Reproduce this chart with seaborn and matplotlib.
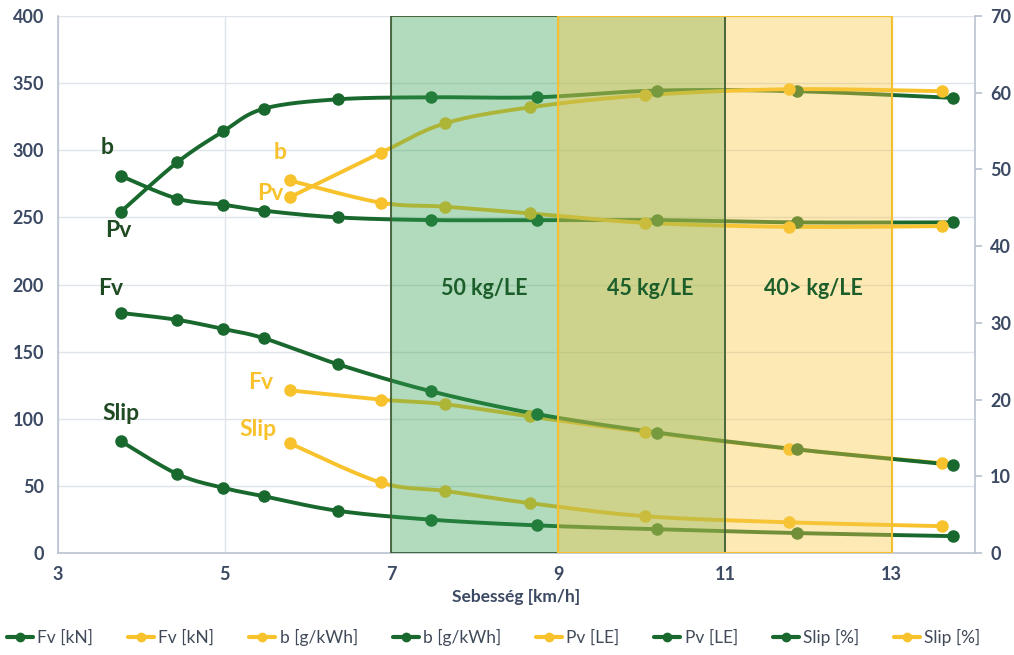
import numpy as np
import matplotlib
matplotlib.use("Agg")
import matplotlib.pyplot as plt
import seaborn as sns
from matplotlib.lines import Line2D

# ---------------- data ----------------
speed_green = [3.75, 4.43, 4.98, 5.47, 6.36, 7.47, 8.75, 10.19, 11.87, 13.74]
speed_yellow = [5.78, 6.87, 7.64, 8.66, 10.04, 11.77, 13.60]

pv_green = [254, 291, 314, 331, 338, 339.5, 339.5, 344.5, 344, 339]      # Pv [LE], left axis
pv_yellow = [265, 298, 320, 332, 341, 345.5, 344]
b_green = [281, 264, 259.5, 255, 250, 248, 248, 248, 246.3, 246.3]      # b [g/kWh], left axis
b_yellow = [277.5, 261, 258, 253, 246, 243, 243.5]
fv_green = [31.3, 30.4, 29.2, 28.0, 24.6, 21.1, 18.1, 15.7, 13.5, 11.5]   # Fv [kN], right axis
fv_yellow = [21.2, 20.0, 19.4, 17.8, 15.8, 13.6, 11.7]
slip_green = [14.6, 10.3, 8.5, 7.4, 5.5, 4.35, 3.6, 3.1, 2.6, 2.2]       # Slip [%], right axis
slip_yellow = [14.3, 9.2, 8.1, 6.5, 4.8, 4.0, 3.5]

zones = [(7, 11), (9, 13)]
zone_labels = ["50 kg/LE", "45 kg/LE", "40> kg/LE"]
zone_label_x = [8.11, 10.11, 12.06]

x_ticks = [3, 5, 7, 9, 11, 13]
left_ticks = list(range(0, 401, 50))
right_ticks = list(range(0, 71, 10))

GREEN = "#19692f"
YELLOW = "#f7c22c"
DARK_TXT = "#1f4a22"
TICK_COL = "#3b4963"

sns.set_theme(style="white")
plt.rcParams["font.family"] = ["Lato", "DejaVu Sans"]


def smooth(x, y, n=24):
    x = np.asarray(x, float)
    y = np.asarray(y, float)
    P = np.column_stack([x, y])
    P = np.vstack([P[0], P, P[-1]])
    out = []
    for i in range(1, len(P) - 2):
        p0, p1, p2, p3 = P[i - 1], P[i], P[i + 1], P[i + 2]
        c1 = p1 + (p2 - p0) / 6.0
        c2 = p2 - (p3 - p1) / 6.0
        t = np.linspace(0, 1, n, endpoint=(i == len(P) - 3))[:, None]
        seg = ((1 - t) ** 3) * p1 + 3 * ((1 - t) ** 2) * t * c1 + 3 * (1 - t) * t ** 2 * c2 + t ** 3 * p2
        out.append(seg)
    out = np.vstack(out)
    return out[:, 0], out[:, 1]


fig = plt.figure(figsize=(10.14, 6.55), dpi=100)
ax = fig.add_axes([0.0572, 0.1557, 0.9043, 0.8198])
ax2 = ax.twinx()


def draw(axis, x, y, color):
    sx, sy = smooth(x, y)
    sns.lineplot(x=sx, y=sy, ax=axis, color=color, lw=2.8, sort=False, zorder=3)
    axis.plot(x, y, ls="none", marker="o", ms=8, color=color, zorder=4)


draw(ax, speed_green, pv_green, GREEN)
draw(ax, speed_yellow, pv_yellow, YELLOW)
draw(ax, speed_green, b_green, GREEN)
draw(ax, speed_yellow, b_yellow, YELLOW)
draw(ax2, speed_yellow, fv_yellow, YELLOW)
draw(ax2, speed_green, fv_green, GREEN)
draw(ax2, speed_yellow, slip_yellow, YELLOW)
draw(ax2, speed_green, slip_green, GREEN)

# shaded zones (drawn over the lines)
ax2.axvspan(zones[0][0], zones[0][1], facecolor="#35a050", alpha=0.38, zorder=6, lw=0)
ax2.axvspan(zones[1][0], zones[1][1], facecolor="#f8c845", alpha=0.40, zorder=6, lw=0)
ax2.axvspan(zones[0][0], zones[0][1], facecolor="none", edgecolor="#3f5e35", lw=1.3, zorder=7)
ax2.axvspan(zones[1][0], zones[1][1], facecolor="none", edgecolor="#f5c030", lw=1.5, zorder=7)

for lx, lab in zip(zone_label_x, zone_labels):
    ax2.text(lx, 197, lab, transform=ax.transData, ha="center", va="center",
             fontsize=15.5, fontweight="bold", color="#1b5e2a", zorder=8)

# series labels
annots = [
    ("b", 3.59, 302, DARK_TXT), ("Pv", 3.72, 240, DARK_TXT),
    ("Fv", 3.63, 197, DARK_TXT), ("Slip", 3.75, 104, DARK_TXT),
    ("b", 5.67, 298, YELLOW), ("Pv", 5.55, 268, YELLOW),
    ("Fv", 5.43, 127, YELLOW), ("Slip", 5.40, 92, YELLOW),
]
for s, lx, ly, c in annots:
    ax2.text(lx, ly, s, transform=ax.transData, ha="center", va="center",
             fontsize=16.5, fontweight="bold", color=c, zorder=8)

# axes
ax.set_xlim(3, 14)
ax.set_ylim(0, 400)
ax2.set_ylim(0, 70)
ax.set_xticks(x_ticks)
ax.set_yticks(left_ticks)
ax2.set_yticks(right_ticks)
ax.grid(True, color="#dfe4ea", lw=1.0)
ax2.grid(False)
ax.set_axisbelow(True)

for a in (ax, ax2):
    a.spines["top"].set_visible(False)
    for side in ("left", "right", "bottom"):
        a.spines[side].set_color("#b9c3d0")
        a.spines[side].set_linewidth(1.2)
ax.spines["right"].set_visible(False)
ax2.spines["left"].set_visible(False)
ax2.spines["bottom"].set_visible(False)

ax.tick_params(axis="y", length=0, labelsize=13, labelcolor=TICK_COL, pad=10)
ax.tick_params(axis="x", length=0, labelsize=13, labelcolor=TICK_COL, pad=9)
ax2.tick_params(axis="y", length=5, color="#b9c3d0", labelsize=13, labelcolor=TICK_COL, pad=6)
for lab in ax.get_xticklabels() + ax.get_yticklabels() + ax2.get_yticklabels():
    lab.set_fontweight("bold")

ax.set_xlabel("Sebesség [km/h]", fontsize=12.5, fontweight="bold", color=TICK_COL, labelpad=5)
ax.set_ylabel("")
ax2.set_ylabel("")

# legend
leg_items = [("Fv [kN]", GREEN), ("Fv [kN]", YELLOW), ("b [g/kWh]", YELLOW), ("b [g/kWh]", GREEN),
             ("Pv [LE]", YELLOW), ("Pv [LE]", GREEN), ("Slip [%]", GREEN), ("Slip [%]", YELLOW)]
handles = [Line2D([], [], color=c, lw=3, marker="o", ms=6) for _, c in leg_items]
fig.legend(handles, [l for l, _ in leg_items], loc="center", bbox_to_anchor=(0.487, 0.027),
           ncol=8, frameon=False, fontsize=12.5, handlelength=1.5, handletextpad=0.25,
           columnspacing=2.0, labelcolor="#404a58")

fig.savefig("out.png", dpi=100)
